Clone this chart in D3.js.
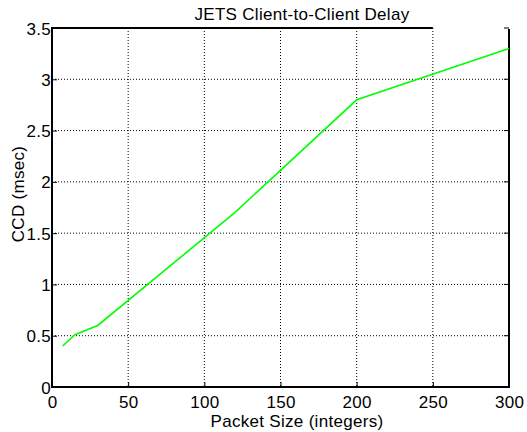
<!DOCTYPE html>
<html>
<head>
<meta charset="utf-8">
<script src="https://cdn.jsdelivr.net/npm/d3@7"></script>
<style>
  body { margin: 0; background: #fff; }
  text { font-family: "Liberation Sans", Arial, sans-serif; fill: #000; letter-spacing: 0.3px; }
</style>
</head>
<body>
<div id="container"></div>
<script>
const w = 527;
const h = 432;

// data
const packetSize = [7, 15, 30, 120, 200, 300];
const ccd = [0.4, 0.51, 0.6, 1.7, 2.8, 3.3];
const xTicks = [0, 50, 100, 150, 200, 250, 300];
const yTicks = [0, 0.5, 1, 1.5, 2, 2.5, 3, 3.5];

const padL = 52, padR = 509, padT = 28, padB = 387;
const fs = "17px";

const svg = d3.select("#container").append("svg")
              .attr("width", w).attr("height", h);

const x = d3.scaleLinear().domain([0, 300]).range([padL, padR]);
const y = d3.scaleLinear().domain([0, 3.5]).range([padB, padT]);

// grid
svg.append("g").selectAll("line").data(xTicks.slice(1, -1)).enter().append("line")
   .attr("x1", d => x(d)).attr("x2", d => x(d))
   .attr("y1", padT).attr("y2", padB)
   .attr("stroke", "#000").attr("stroke-width", 1).attr("stroke-dasharray", "1,2");
svg.append("g").selectAll("line").data(yTicks.slice(1, -1)).enter().append("line")
   .attr("x1", padL).attr("x2", padR)
   .attr("y1", d => y(d)).attr("y2", d => y(d))
   .attr("stroke", "#000").attr("stroke-width", 1).attr("stroke-dasharray", "1,2");

// axes
const xAxis = d3.axisBottom(x).tickValues(xTicks).tickSize(-5).tickPadding(9).tickFormat(d3.format("d"));
const yAxis = d3.axisLeft(y).tickValues(yTicks).tickSize(-5).tickPadding(1).tickFormat(d => d);

const xg = svg.append("g").attr("transform", "translate(0," + padB + ")").call(xAxis);
const yg = svg.append("g").attr("transform", "translate(" + padL + ",0)").call(yAxis);
[xg, yg].forEach(g => {
  g.select(".domain").remove();
  g.selectAll("text").style("font-size", fs).attr("fill", "#000");
  g.selectAll(".tick line").attr("stroke", "#000");
});
yg.selectAll("text").attr("dy", "0.36em");

// right-side ticks
svg.append("g").selectAll("line").data(yTicks).enter().append("line")
   .attr("x1", padR - 5).attr("x2", padR)
   .attr("y1", d => y(d)).attr("y2", d => y(d))
   .attr("stroke", "#000");

// frame (top edge stops at 250 as in the original)
svg.append("line").attr("x1", padL).attr("x2", padL).attr("y1", padT - 1).attr("y2", padB + 1)
   .attr("stroke", "#000").attr("stroke-width", 2);
svg.append("line").attr("x1", padL - 1).attr("x2", padR + 1).attr("y1", padB).attr("y2", padB)
   .attr("stroke", "#000").attr("stroke-width", 2);
svg.append("line").attr("x1", padL).attr("x2", x(250)).attr("y1", padT).attr("y2", padT)
   .attr("stroke", "#000").attr("stroke-width", 2);
svg.append("line").attr("x1", padR).attr("x2", padR).attr("y1", padT + 1).attr("y2", padB)
   .attr("stroke", "#000").attr("stroke-width", 2);

// data line
const line = d3.line().x((d, i) => x(packetSize[i])).y(d => y(d));
svg.append("path").datum(ccd)
   .attr("d", line)
   .attr("fill", "none")
   .attr("stroke", "#00ff00")
   .attr("stroke-width", 1.6);

// labels
svg.append("text").attr("x", 302).attr("y", 20).attr("text-anchor", "middle")
   .style("font-size", fs).text("JETS Client-to-Client Delay");
svg.append("text").attr("x", 297).attr("y", 427).attr("text-anchor", "middle")
   .style("font-size", fs).text("Packet Size (integers)");
svg.append("text").attr("transform", "translate(24,194) rotate(-90)").attr("text-anchor", "middle")
   .style("font-size", fs).text("CCD (msec)");
</script>
</body>
</html>
